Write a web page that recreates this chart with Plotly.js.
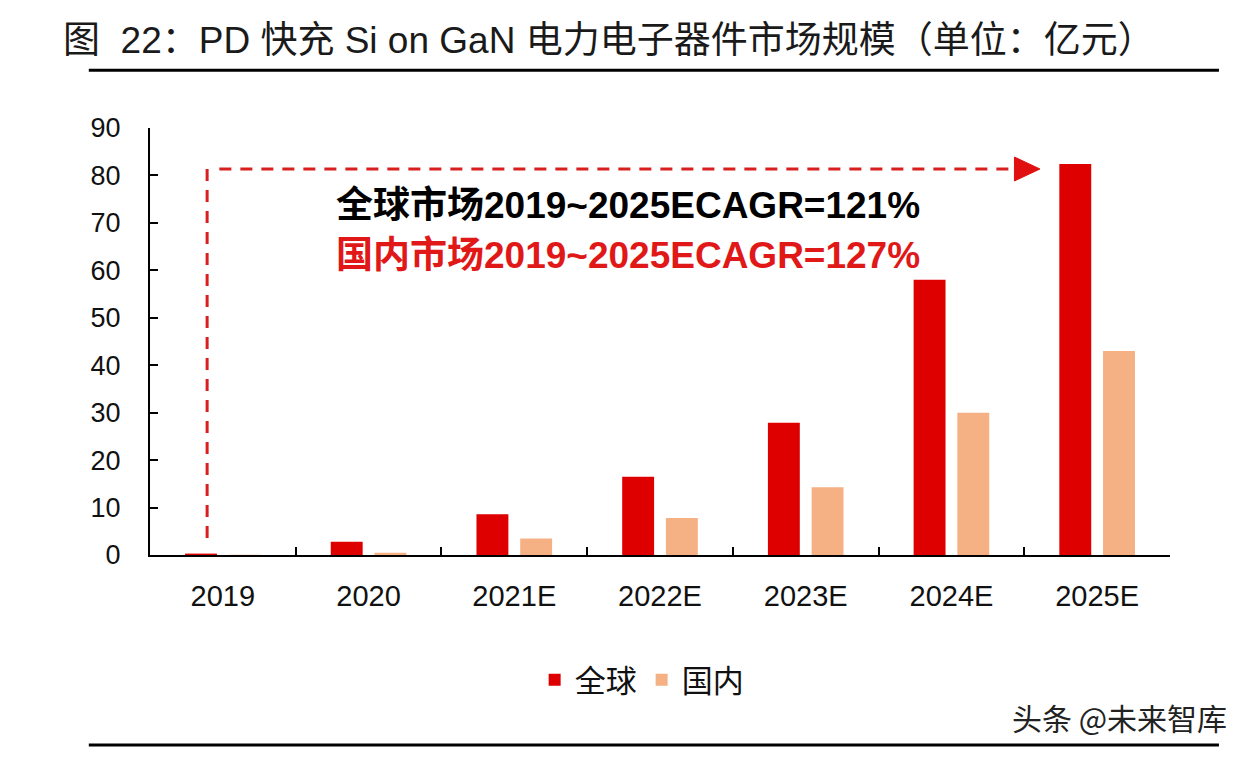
<!DOCTYPE html>
<html><head><meta charset="utf-8">
<script src="https://cdn.plot.ly/plotly-3.0.1.min.js"></script>
<style>html,body{margin:0;padding:0;background:#fff;}#chart{width:1250px;height:758px;}</style>
</head><body><div id="chart"></div>
<script>
const categories = ['2019','2020','2021E','2022E','2023E','2024E','2025E'];
const globalValues = [0.3, 2.8, 8.6, 16.5, 27.9, 58.0, 82.4];
const domesticValues = [0.05, 0.5, 3.5, 7.8, 14.3, 30.0, 43.0];
const seriesNames = ['全球', '国内'];
const titleText = '图  22：PD 快充 Si on GaN 电力电子器件市场规模（单位：亿元）';
const cagrGlobal = '全球市场2019~2025ECAGR=121%';
const cagrDomestic = '国内市场2019~2025ECAGR=127%';
const watermark = '头条 @未来智库';

const font = 'Liberation Sans, Arial, Noto Sans CJK SC, sans-serif';
const cjk = 'Noto Sans CJK SC, Liberation Sans, sans-serif';
const mixed = 'Liberation Sans, Noto Sans CJK SC, sans-serif';

const traces = [
  {type:'bar', x:categories, y:globalValues, name:seriesNames[0], marker:{color:'#DE0000'}},
  {type:'bar', x:categories, y:domesticValues, name:seriesNames[1], marker:{color:'#F5B183'}}
];

const red = '#D81E1E';
const layout = {
  width:1250, height:758,
  paper_bgcolor:'#fff', plot_bgcolor:'#fff',
  margin:{l:150, r:80, t:128, b:203},
  barmode:'group', bargap:0.4, bargroupgap:0.27,
  showlegend:true,
  legend:{orientation:'h', x:0.482, xanchor:'center', y:-0.293, yanchor:'middle',
          font:{family:cjk, size:31, color:'#111'}, itemwidth:30, tracegroupgap:0},
  xaxis:{type:'category', showline:true, linecolor:'#000', linewidth:2,
         ticks:'inside', tickson:'boundaries', ticklen:8, tickwidth:2, tickcolor:'#000',
         tickfont:{family:font, size:29, color:'#111'}, showgrid:false, zeroline:false,
         ticklabelstandoff:14},
  yaxis:{range:[0,90], dtick:10, showline:true, linecolor:'#000', linewidth:2,
         ticks:'inside', ticklen:8, tickwidth:2, tickcolor:'#000',
         tickfont:{family:font, size:27, color:'#111'}, showgrid:false, zeroline:false,
         ticklabelstandoff:22},
  shapes:[
    {type:'line', xref:'paper', yref:'paper', x0:-0.06, x1:1.048, y0:1.135, y1:1.135,
     line:{color:'#000', width:3}},
    {type:'line', xref:'paper', yref:'paper', x0:-0.06, x1:1.048, y0:-0.445, y1:-0.445,
     line:{color:'#000', width:3}},
    {type:'line', xref:'paper', yref:'paper', x0:0.056, x1:0.056, y0:0.04, y1:0.904,
     line:{color:red, width:3, dash:'12px,9px'}},
    {type:'line', xref:'paper', yref:'paper', x0:0.068, x1:0.852, y0:0.904, y1:0.904,
     line:{color:red, width:3, dash:'12px,9px'}},
    {type:'path', xref:'paper', yref:'paper',
     path:'M 0.8475 0.932 L 0.8725 0.904 L 0.8475 0.876 Z',
     fillcolor:'#E01010', line:{color:'#E01010', width:1}}
  ],
  annotations:[
    {text:titleText, xref:'paper', yref:'paper', x:-0.087, y:1.205, xanchor:'left', yanchor:'middle',
     showarrow:false, font:{family:mixed, size:37, color:'#1a1a1a'}},
    {text:'<b>'+cagrGlobal+'</b>', xref:'paper', yref:'paper', x:0.18, y:0.818, xanchor:'left', yanchor:'middle',
     showarrow:false, font:{family:mixed, size:37, color:'#000'}},
    {text:'<b>'+cagrDomestic+'</b>', xref:'paper', yref:'paper', x:0.18, y:0.701, xanchor:'left', yanchor:'middle',
     showarrow:false, font:{family:mixed, size:37, color:'#E01818'}},
    {text:watermark, xref:'paper', yref:'paper', x:1.058, y:-0.38, xanchor:'right', yanchor:'middle',
     showarrow:false, font:{family:cjk, size:30, color:'#222'}}
  ]
};
Plotly.newPlot('chart', traces, layout, {displayModeBar:false, staticPlot:true});
</script>
</body></html>
